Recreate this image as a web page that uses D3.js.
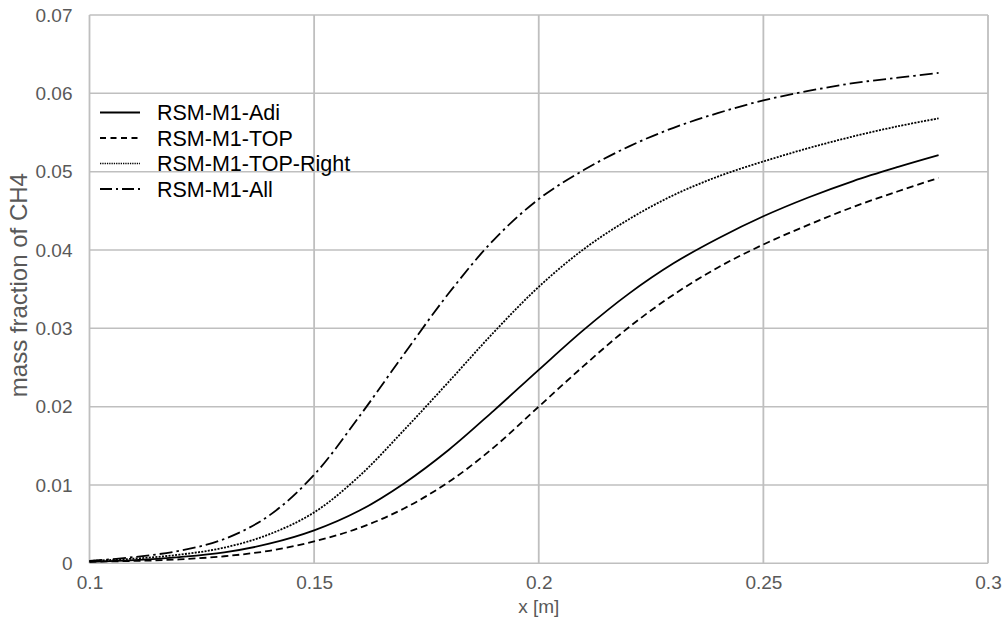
<!DOCTYPE html>
<html>
<head>
<meta charset="utf-8">
<script src="https://cdn.jsdelivr.net/npm/d3@7"></script>
<style>
  html, body { margin: 0; padding: 0; background: #fff; }
  svg { display: block; font-family: "Liberation Sans", Arial, sans-serif; }
</style>
</head>
<body>
<svg id="chart" width="1002" height="623"></svg>
<script>
// ---- data ----
const xValues = [0.100, 0.110, 0.120, 0.130, 0.140, 0.150, 0.160, 0.170, 0.180, 0.190,
                 0.200, 0.210, 0.220, 0.230, 0.240, 0.250, 0.260, 0.270, 0.280, 0.289];
const adi      = [0.0002, 0.0004, 0.0008, 0.0014, 0.0025, 0.0042, 0.0067, 0.0102, 0.0145, 0.0195,
                  0.0247, 0.0298, 0.0344, 0.0383, 0.0415, 0.0443, 0.0467, 0.0488, 0.0506, 0.0521];
const top_     = [0.0002, 0.0003, 0.0005, 0.0009, 0.0016, 0.0028, 0.0045, 0.0070, 0.0104, 0.0148,
                  0.0200, 0.0252, 0.0301, 0.0343, 0.0378, 0.0407, 0.0432, 0.0455, 0.0475, 0.0492];
const topRight = [0.0003, 0.0006, 0.0011, 0.0020, 0.0037, 0.0065, 0.0111, 0.0170, 0.0232, 0.0295,
                  0.0353, 0.0401, 0.0439, 0.0470, 0.0494, 0.0513, 0.0530, 0.0545, 0.0558, 0.0568];
const all      = [0.0003, 0.0008, 0.0016, 0.0031, 0.0061, 0.0113, 0.0187, 0.0267, 0.0345, 0.0413,
                  0.0465, 0.0502, 0.0532, 0.0556, 0.0575, 0.0591, 0.0603, 0.0613, 0.0620, 0.0626];
const seriesNames = ["RSM-M1-Adi", "RSM-M1-TOP", "RSM-M1-TOP-Right", "RSM-M1-All"];
const xTicks = [0.1, 0.15, 0.2, 0.25, 0.3];
const yTicks = [0, 0.01, 0.02, 0.03, 0.04, 0.05, 0.06, 0.07];
const xTitle = "x [m]";
const yTitle = "mass fraction of CH4";

// ---- layout ----
const svg = d3.select("#chart");
const L = 89.5, R = 988, T = 15, B = 563.3;
const x = d3.scaleLinear().domain([0.1, 0.3]).range([L, R]);
const y = d3.scaleLinear().domain([0, 0.07]).range([B, T]);
const textColor = "#595959";
const gridColor = "#bfbfbf";

// gridlines
const g = svg.append("g");
g.selectAll("line.h").data(yTicks).join("line")
  .attr("x1", L).attr("x2", R)
  .attr("y1", d => y(d)).attr("y2", d => y(d))
  .attr("stroke", gridColor).attr("stroke-width", 1.5);
g.selectAll("line.v").data(xTicks).join("line")
  .attr("y1", T).attr("y2", B)
  .attr("x1", d => x(d)).attr("x2", d => x(d))
  .attr("stroke", gridColor).attr("stroke-width", 1.8);

// axes (labels only)
const yAxis = svg.append("g").attr("transform", `translate(${L},0)`)
  .call(d3.axisLeft(y).tickValues(yTicks).tickSize(0).tickPadding(17)
        .tickFormat(d => d === 0 ? "0" : d3.format(".2f")(d)));
yAxis.select(".domain").remove();
yAxis.selectAll("text").attr("fill", textColor).style("font-size", "19px")
  .style("font-family", "Liberation Sans, Arial, sans-serif");

const xAxis = svg.append("g").attr("transform", `translate(0,${B})`)
  .call(d3.axisBottom(x).tickValues(xTicks).tickSize(0).tickPadding(12)
        .tickFormat(d => String(+d.toFixed(2))));
xAxis.select(".domain").remove();
xAxis.selectAll("text").attr("fill", textColor).style("font-size", "19px")
  .style("font-family", "Liberation Sans, Arial, sans-serif");

// titles
svg.append("text").attr("x", (L + R) / 2).attr("y", 613)
  .attr("text-anchor", "middle").attr("fill", textColor)
  .style("font-size", "19px").text(xTitle);
svg.append("text").attr("transform", `translate(27,${(T + B) / 2 - 4}) rotate(-90)`)
  .attr("text-anchor", "middle").attr("fill", textColor)
  .style("font-size", "24px").text(yTitle);

// series
const seriesData = [adi, top_, topRight, all];
const dashes = [null, "7,4", "2,1.3", "13,4,2.5,4"];
const line = d3.line().x((d, i) => x(xValues[i])).y(d => y(d)).curve(d3.curveCatmullRom.alpha(0.5));
svg.append("g").selectAll("path").data(seriesData).join("path")
  .attr("d", d => line(d))
  .attr("fill", "none").attr("stroke", "#000")
  .attr("stroke-width", 1.8)
  .attr("stroke-dasharray", (d, i) => dashes[i]);

// legend
const leg = svg.append("g");
seriesNames.forEach((name, i) => {
  const yy = 112.5 + i * 25.5;
  leg.append("line").attr("x1", 100).attr("x2", 140).attr("y1", yy).attr("y2", yy)
    .attr("stroke", "#000").attr("stroke-width", i === 2 ? 1.3 : 1.8)
    .attr("stroke-dasharray", i === 1 ? "6,4.5" : i === 3 ? "12,4,2,4" : i === 2 ? "1.3,1" : null);
  leg.append("text").attr("x", 157).attr("y", yy).attr("dy", "0.35em")
    .attr("fill", "#000").style("font-size", "21.5px").text(name);
});
</script>
</body>
</html>
